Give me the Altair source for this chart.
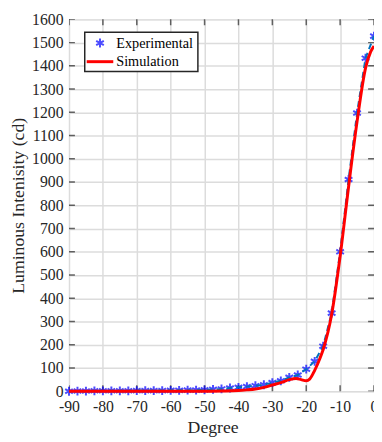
import altair as alt
import pandas as pd

# Experimental data (every 2.5 degrees)
exp_deg = [-90, -87.5, -85, -82.5, -80, -77.5, -75, -72.5, -70, -67.5, -65, -62.5,
           -60, -57.5, -55, -52.5, -50, -47.5, -45, -42.5, -40, -37.5, -35, -32.5,
           -30, -27.5, -25, -22.5, -20, -17.5, -15, -12.5, -10, -7.5, -5, -2.5, 0]
exp_val = [0, 1, 1, 2, 2, 2, 2, 2, 3, 3, 3, 3,
           4, 4, 5, 5, 6, 8, 10, 14, 17, 20, 24, 28,
           37, 45, 60, 70, 95, 129, 194, 336, 600, 911, 1197, 1433, 1528]

# Simulation curve
sim_deg = [-90, -70, -60, -50, -45, -40, -37.5, -35, -32.5, -30, -27.5, -25, -23,
           -21.5, -20, -19, -17.5, -16, -15, -12.5, -10, -7.5, -5, -2.5, -1, 0]
sim_val = [0, 0, 0, 0, 1, 3, 6, 10, 17, 27, 37, 50, 55,
           50, 45, 52, 90, 140, 180, 330, 580, 880, 1160, 1390, 1460, 1485]

x_ticks = list(range(-90, 1, 10))
y_ticks = list(range(0, 1601, 100))

FONT = "Liberation Serif"
TXT = "#262626"
W, H = 310, 378

exp_df = pd.DataFrame({"deg": exp_deg, "val": exp_val})
sim_df = pd.DataFrame({"deg": sim_deg, "val": sim_val})
xt_df = pd.DataFrame({"deg": x_ticks})
yt_df = pd.DataFrame({"val": y_ticks})
one = pd.DataFrame({"k": [0]})

xs = alt.Scale(domain=[-90, 0], nice=False, zero=False)
ys = alt.Scale(domain=[0, 1600], nice=False)

xaxis = alt.Axis(values=x_ticks, title="Degree", grid=True, gridColor="#dcdcdc",
                 gridWidth=1.5, ticks=False, domain=False, labelFont=FONT,
                 labelFontSize=16, labelColor=TXT, labelPadding=8,
                 labelOverlap=False, labelFlush=False,
                 labelExpr="toString(datum.value)",
                 titleFont=FONT, titleFontSize=18, titleFontWeight="normal",
                 titleColor=TXT, titlePadding=4, titleX=146)
yaxis = alt.Axis(values=y_ticks, title="Luminous Intenisity (cd)", grid=True,
                 gridColor="#dcdcdc", gridWidth=1.5, ticks=False, domain=False,
                 labelFont=FONT, labelFontSize=16, labelColor=TXT, labelPadding=6,
                 labelOverlap=False, labelFlush=False,
                 labelExpr="toString(datum.value)",
                 titleFont=FONT, titleFontSize=18, titleFontWeight="normal",
                 titleColor=TXT, titlePadding=4)


def X(f="deg"):
    return alt.X(f"{f}:Q", scale=xs, axis=xaxis)


def Y(f="val"):
    return alt.Y(f"{f}:Q", scale=ys, axis=yaxis)


ASTER = "M0,-1L0,1M-0.87,-0.5L0.87,0.5M-0.87,0.5L0.87,-0.5"

dashed = alt.Chart(exp_df).mark_line(color="#0072BD", strokeWidth=2,
                                     strokeDash=[6, 4]).encode(x=X(), y=Y())
points = alt.Chart(exp_df).mark_point(shape=ASTER, filled=False, color="#0000FF",
                                      size=80, strokeWidth=2).encode(x=X(), y=Y())
sim = alt.Chart(sim_df).mark_line(color="#FF0000", strokeWidth=3,
                                  interpolate="monotone").encode(x=X(), y=Y())

tick_style = dict(color="#262626", thickness=1.5, size=12, clip=True)
xt_bottom = alt.Chart(xt_df).mark_tick(orient="vertical", **tick_style).encode(
    x=X(), y=alt.value(H))
xt_top = alt.Chart(xt_df).mark_tick(orient="vertical", **tick_style).encode(
    x=X(), y=alt.value(0))
yt_left = alt.Chart(yt_df).mark_tick(orient="horizontal", **tick_style).encode(
    y=Y(), x=alt.value(0))
yt_right = alt.Chart(yt_df).mark_tick(orient="horizontal", **tick_style).encode(
    y=Y(), x=alt.value(W))

# legend box
leg_box = alt.Chart(one).mark_rect(fill="white", stroke="#262626",
                                   strokeWidth=1.5).encode(
    x=alt.value(16), x2=alt.value(131), y=alt.value(13), y2=alt.value(53))
leg_pt = alt.Chart(one).mark_point(shape=ASTER, filled=False, color="#0000FF",
                                   size=80, strokeWidth=2).encode(
    x=alt.value(31.5), y=alt.value(24))
leg_line = alt.Chart(one).mark_rule(color="#FF0000", strokeWidth=3).encode(
    x=alt.value(18), x2=alt.value(45), y=alt.value(43))
leg_t1 = alt.Chart(one).mark_text(text="Experimental", font=FONT, fontSize=14.5,
                                  align="left", baseline="middle",
                                  color="#000000").encode(
    x=alt.value(48), y=alt.value(25))
leg_t2 = alt.Chart(one).mark_text(text="Simulation", font=FONT, fontSize=14.5,
                                  align="left", baseline="middle",
                                  color="#000000").encode(
    x=alt.value(48), y=alt.value(43))

chart = alt.layer(
    xt_bottom, xt_top, yt_left, yt_right, points, dashed, sim,
    leg_box, leg_pt, leg_line, leg_t1, leg_t2
).properties(
    width=W, height=H,
    autosize=alt.AutoSizeParams(type="none"),
    padding={"left": 62, "top": 8, "right": 0, "bottom": 48},
).configure_view(
    stroke="#262626", strokeWidth=2
).configure(background="white")

chart.save("out.html", embed_options={"renderer": "svg", "actions": False})
